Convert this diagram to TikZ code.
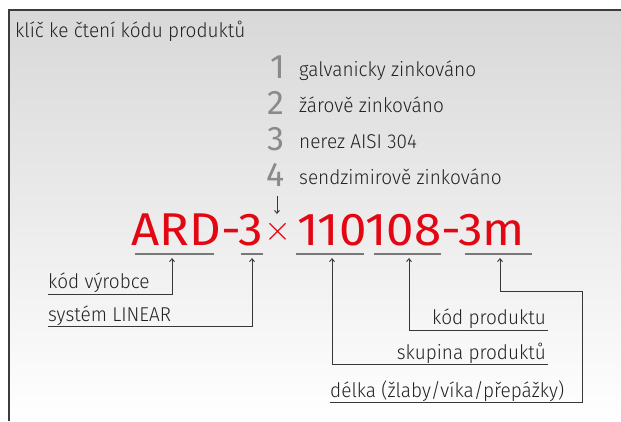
\documentclass[tikz,border=0pt]{standalone}
\usepackage{fontspec}
\setmainfont{Fira Sans}[UprightFont={* Light}, FakeStretch=0.95]
\newfontfamily\codefont{Fira Sans}[FakeStretch=1.07]
\newfontfamily\numfont{Fira Sans}
\usetikzlibrary{arrows.meta, positioning}
\definecolor{codered}{RGB}{227,6,19}
\definecolor{numgray}{RGB}{138,138,138}
\definecolor{txtdark}{RGB}{35,35,35}
\definecolor{linegray}{RGB}{120,120,120}
\definecolor{conndark}{RGB}{55,55,55}
\definecolor{bgtop}{RGB}{216,216,216}
\definecolor{framedark}{RGB}{60,60,60}
\tikzset{
  popis/.style={font=\fontsize{20}{24}\selectfont, text=txtdark, inner sep=0pt},
  cislo/.style={font=\numfont\fontsize{34}{36}\selectfont, text=numgray, inner sep=0pt},
  kod/.style={font=\codefont\fontsize{46}{48}\selectfont, text=codered, inner sep=0pt},
  krizek/.style={font=\fontsize{24}{26}\selectfont, text=codered, inner sep=0pt,
    scale=1.4, transform shape},
  podtrh/.style={draw=linegray, line width=2pt},
  spoj/.style={draw=conndark, line width=0.9pt, -{Straight Barb[length=3pt,width=5pt]}}
}

\begin{document}
\begin{tikzpicture}[x=1pt, y=-1pt]
  \useasboundingbox (0,0) rectangle (621,421);
  % background panel
  \shade[top color=bgtop, bottom color=white] (9,10) rectangle (621,421);
  \draw[framedark, line width=1.5pt] (9,421) -- (9,10) -- (621,10);

  \node[popis, anchor=base west] (nadpis) at (15,37) {klíč ke čtení kódu produktů};

  % material legend
  \foreach \n/\txt in {1/galvanicky zinkováno, 2/žárově zinkováno,
                       3/nerez AISI 304, 4/sendzimirově zinkováno} {
    \node[cislo, anchor=base east] (cislo\n) at (285,{78+36*(\n-1)}) {\n};
    \node[popis, anchor=base west] (mat\n) at (299,{76+36*(\n-1)}) {\txt};
  }

  % product code
  \node[kod, anchor=base east] (kodA) at (263,245) {ARD-3};
  \node[krizek] (krat) at (278,232) {\makebox[12pt]{$\times$}};
  \node[kod, anchor=base east] (kodB) at (525,245) {110108-3m};

  \coordinate (kratTop) at (277,196);
  \coordinate (kratTip) at (277,214);
  \draw[spoj] (kratTop) -- (kratTip);

  % segment underlines
  \draw[podtrh] (135,254) -- (214,254);
  \draw[podtrh] (241,254) -- (263,254);
  \draw[podtrh] (296,254) -- (364,254);
  \draw[podtrh] (374,254) -- (441,254);
  \draw[podtrh] (465,254) -- (532,254);

  % arrow targets
  \coordinate (aVyrobce) at (172,258);
  \coordinate (aSystem) at (252,258);
  \coordinate (aSkupina) at (332,258);
  \coordinate (aProdukt) at (409,258);
  \coordinate (aDelka) at (500,258);

  % descriptions
  \node[popis, anchor=base west] (vyrobce) at (48,288) {kód výrobce};
  \node[popis, anchor=base west] (system) at (48,321) {systém LINEAR};
  \node[popis, anchor=base east] (produkt) at (546,324) {kód produktu};
  \node[popis, anchor=base east] (skupina) at (546,359) {skupina produktů};
  \node[popis, anchor=base west] (delka) at (330,397) {délka (žlaby/víka/přepážky)};

  \coordinate (uVyrobce) at (48,294);
  \coordinate (uSystem) at (48,326);
  \coordinate (uProdukt) at (548,330);
  \coordinate (uSkupina) at (548,364);
  \coordinate (uDelka) at (330,402);
  \coordinate (ohyb) at (582,291);

  \draw[spoj] (uVyrobce) -| (aVyrobce);
  \draw[spoj] (uSystem) -| (aSystem);
  \draw[spoj] (uProdukt) -| (aProdukt);
  \draw[spoj] (uSkupina) -| (aSkupina);
  \draw[spoj] (uDelka) -| (ohyb) -| (aDelka);
\end{tikzpicture}
\end{document}
